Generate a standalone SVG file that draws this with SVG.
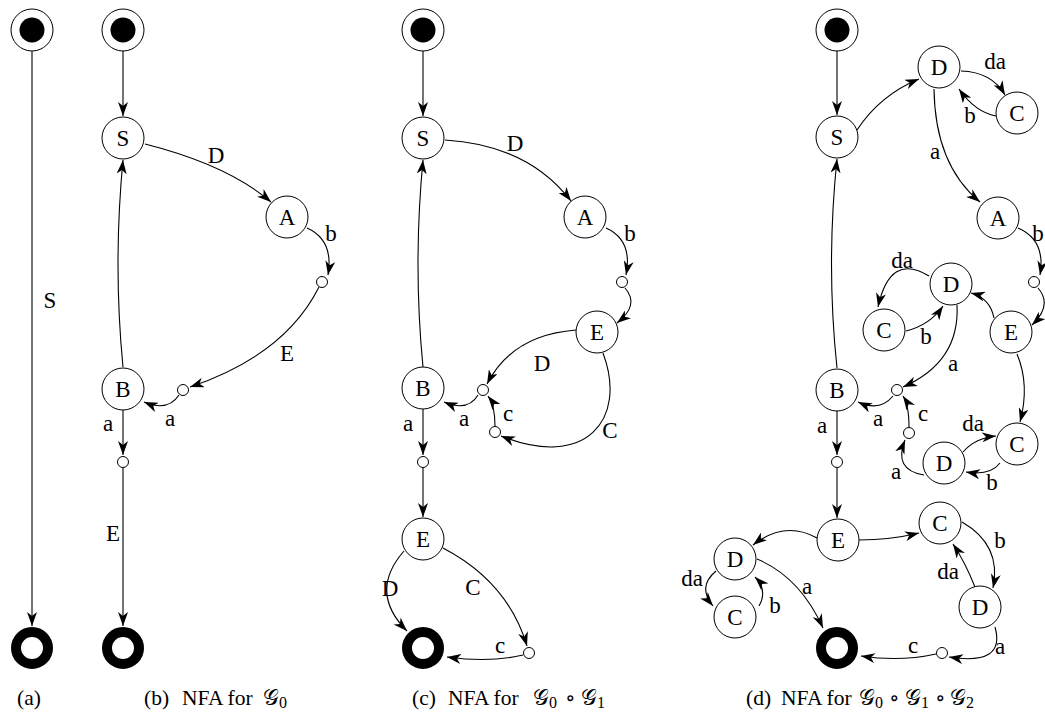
<svg xmlns="http://www.w3.org/2000/svg" width="1045" height="717" viewBox="0 0 1045 717" font-family="Liberation Serif, DejaVu Serif, serif">
<defs>
<marker id="ah" viewBox="0 0 14 10" refX="14" refY="5" markerWidth="14" markerHeight="10" orient="auto" markerUnits="userSpaceOnUse">
<path d="M0,0 L14,5 L0,10 L4,5 z" fill="#000"/>
</marker>
<style>
.n circle{fill:#fff;stroke:#000;stroke-width:1}
.n text,.lbl{font-family:'Liberation Serif','DejaVu Serif',serif;font-size:23px;text-anchor:middle;fill:#000}
.sm circle{fill:#fff;stroke:#000;stroke-width:1}
.st .o{fill:#fff;stroke:#000;stroke-width:1}
.st .i{fill:#000}
.fin circle{fill:none;stroke:#000;stroke-width:10}
.e path{fill:none;stroke:#000;stroke-width:1.1;marker-end:url(#ah)}
.cap{font-family:'Liberation Serif','DejaVu Serif',serif;font-size:21.5px;fill:#000}
.sub{font-size:16px}
</style>
</defs>
<rect width="1045" height="717" fill="#fff"/>

<g id="edges" class="e">
<path d="M32,51 L32,626"/>
<path d="M123,51 L123,116"/>
<path d="M145,144 Q228,165 271,202"/>
<path d="M307,228 Q334,240 328,275"/>
<path d="M319,287 Q285,355 190,387"/>
<path d="M179,395 Q168,412 144,402"/>
<path d="M123,367 Q113,265 123,160"/>
<path d="M123,410 L123,455"/>
<path d="M123,468 L123,626"/>
<path d="M423,51 L423,116"/>
<path d="M445,140 Q528,145 571,201"/>
<path d="M606,228 Q633,240 626,275"/>
<path d="M625,288 Q640,305 617,323"/>
<path d="M576,330 Q512,335 487,384"/>
<path d="M603,353 C628,420 585,470 501,436"/>
<path d="M495,426 Q495,405 488,396"/>
<path d="M478,395 Q468,412 444,402"/>
<path d="M423,367 Q413,265 423,160"/>
<path d="M423,409 L423,455"/>
<path d="M423,468 L423,517"/>
<path d="M404,551 Q368,592 407,631"/>
<path d="M443,548 Q508,582 527,646"/>
<path d="M523,655 Q490,663 447,657"/>
<path d="M837,51 L837,115"/>
<path d="M857,130 Q880,95 919,79"/>
<path d="M961,71 Q992,72 1005,95"/>
<path d="M996,116 Q975,112 959,89"/>
<path d="M934,89 Q935,165 980,202"/>
<path d="M1018,228 Q1046,240 1040,275"/>
<path d="M1038,288 Q1053,305 1032,325"/>
<path d="M994,318 Q990,298 971,293"/>
<path d="M929,276 Q890,252 878,307"/>
<path d="M906,331 Q930,325 943,306"/>
<path d="M957,305 Q960,362 903,387"/>
<path d="M1017,354 Q1030,385 1020,422"/>
<path d="M893,396 Q880,412 858,402"/>
<path d="M909,427 Q909,405 903,396"/>
<path d="M924,475 Q893,470 905,440"/>
<path d="M963,452 Q975,438 996,436"/>
<path d="M1000,463 Q990,476 966,472"/>
<path d="M837,368 Q826,265 837,159"/>
<path d="M837,411 L837,455"/>
<path d="M837,468 L837,518"/>
<path d="M817,538 Q785,520 753,545"/>
<path d="M859,540 Q890,540 919,533"/>
<path d="M716,571 Q697,587 713,606"/>
<path d="M759,606 Q768,590 755,577"/>
<path d="M757,559 Q800,577 823,628"/>
<path d="M962,522 Q1002,545 993,588"/>
<path d="M975,587 Q965,562 953,544"/>
<path d="M995,627 Q1006,666 949,657"/>
<path d="M936,654 Q900,662 861,656"/>
</g>

<g id="edge-labels" class="lbl" font-family="Liberation Serif, DejaVu Serif, serif" font-size="23" text-anchor="middle">
<text x="50" y="308">S</text>
<text x="216" y="163">D</text>
<text x="331" y="241">b</text>
<text x="287" y="361">E</text>
<text x="170" y="426">a</text>
<text x="108" y="431">a</text>
<text x="113" y="541">E</text>
<text x="515" y="151">D</text>
<text x="630" y="241">b</text>
<text x="542" y="371">D</text>
<text x="610" y="438">C</text>
<text x="508" y="421">c</text>
<text x="464" y="426">a</text>
<text x="408" y="431">a</text>
<text x="390" y="596">D</text>
<text x="473" y="595">C</text>
<text x="500" y="653">c</text>
<text x="995" y="69">da</text>
<text x="970" y="123">b</text>
<text x="935" y="159">a</text>
<text x="1038" y="241">b</text>
<text x="902" y="268">da</text>
<text x="926" y="344">b</text>
<text x="953" y="371">a</text>
<text x="878" y="426">a</text>
<text x="923" y="421">c</text>
<text x="822" y="433">a</text>
<text x="973" y="431">da</text>
<text x="896" y="479">a</text>
<text x="992" y="490">b</text>
<text x="692" y="586">da</text>
<text x="775" y="613">b</text>
<text x="807" y="594">a</text>
<text x="1000" y="548">b</text>
<text x="948" y="579">da</text>
<text x="1000" y="654">a</text>
<text x="913" y="653">c</text>
</g>

<g id="a-start" class="st"><circle class="o" cx="32" cy="30" r="21"/><circle class="i" cx="32" cy="30" r="12.5"/></g>
<g id="a-final" class="fin"><circle cx="32" cy="648" r="16"/></g>

<g id="b-start" class="st"><circle class="o" cx="123" cy="30" r="21"/><circle class="i" cx="123" cy="30" r="12.5"/></g>
<g id="b-S" class="n"><circle cx="123" cy="138" r="21"/><text x="123" y="146">S</text></g>
<g id="b-A" class="n"><circle cx="287" cy="217" r="21"/><text x="287" y="225">A</text></g>
<g id="b-s1" class="sm"><circle cx="322" cy="282" r="5.5"/></g>
<g id="b-s2" class="sm"><circle cx="183" cy="390" r="5.5"/></g>
<g id="b-B" class="n"><circle cx="123" cy="389" r="21"/><text x="123" y="397">B</text></g>
<g id="b-s3" class="sm"><circle cx="123" cy="462" r="5.5"/></g>
<g id="b-final" class="fin"><circle cx="123" cy="648" r="16"/></g>

<g id="c-start" class="st"><circle class="o" cx="423" cy="30" r="21"/><circle class="i" cx="423" cy="30" r="12.5"/></g>
<g id="c-S" class="n"><circle cx="423" cy="138" r="21"/><text x="423" y="146">S</text></g>
<g id="c-A" class="n"><circle cx="585" cy="217" r="21"/><text x="585" y="225">A</text></g>
<g id="c-s1" class="sm"><circle cx="622" cy="282" r="5.5"/></g>
<g id="c-E" class="n"><circle cx="597" cy="332" r="21"/><text x="597" y="340">E</text></g>
<g id="c-B" class="n"><circle cx="423" cy="388" r="21"/><text x="423" y="396">B</text></g>
<g id="c-s2" class="sm"><circle cx="483" cy="390" r="5.5"/></g>
<g id="c-s3" class="sm"><circle cx="495" cy="432" r="5.5"/></g>
<g id="c-s4" class="sm"><circle cx="423" cy="462" r="5.5"/></g>
<g id="c-E2" class="n"><circle cx="423" cy="539" r="21"/><text x="423" y="547">E</text></g>
<g id="c-s5" class="sm"><circle cx="529" cy="653" r="5.5"/></g>
<g id="c-final" class="fin"><circle cx="423" cy="648" r="16"/></g>

<g id="d-start" class="st"><circle class="o" cx="837" cy="30" r="21"/><circle class="i" cx="837" cy="30" r="12.5"/></g>
<g id="d-S" class="n"><circle cx="837" cy="137" r="21"/><text x="837" y="145">S</text></g>
<g id="d-D1" class="n"><circle cx="939" cy="67" r="21"/><text x="939" y="75">D</text></g>
<g id="d-C1" class="n"><circle cx="1017" cy="113" r="21"/><text x="1017" y="121">C</text></g>
<g id="d-A" class="n"><circle cx="998" cy="218" r="21"/><text x="998" y="226">A</text></g>
<g id="d-s1" class="sm"><circle cx="1034" cy="282" r="5.5"/></g>
<g id="d-E" class="n"><circle cx="1011" cy="332" r="21"/><text x="1011" y="340">E</text></g>
<g id="d-D2" class="n"><circle cx="951" cy="284" r="21"/><text x="951" y="292">D</text></g>
<g id="d-C2" class="n"><circle cx="884" cy="330" r="21"/><text x="884" y="338">C</text></g>
<g id="d-B" class="n"><circle cx="837" cy="390" r="21"/><text x="837" y="398">B</text></g>
<g id="d-sa" class="sm"><circle cx="897" cy="390" r="5.5"/></g>
<g id="d-sb" class="sm"><circle cx="909" cy="433" r="5.5"/></g>
<g id="d-D3" class="n"><circle cx="944" cy="463" r="21"/><text x="944" y="471">D</text></g>
<g id="d-C3" class="n"><circle cx="1017" cy="444" r="21"/><text x="1017" y="452">C</text></g>
<g id="d-sc" class="sm"><circle cx="837" cy="462" r="5.5"/></g>
<g id="d-E4" class="n"><circle cx="838" cy="540" r="21"/><text x="838" y="548">E</text></g>
<g id="d-C4" class="n"><circle cx="940" cy="523" r="21"/><text x="940" y="531">C</text></g>
<g id="d-D4" class="n"><circle cx="735" cy="559" r="21"/><text x="735" y="567">D</text></g>
<g id="d-C5" class="n"><circle cx="735" cy="617" r="21"/><text x="735" y="625">C</text></g>
<g id="d-D5" class="n"><circle cx="980" cy="607" r="21"/><text x="980" y="615">D</text></g>
<g id="d-sd" class="sm"><circle cx="942" cy="653" r="5.5"/></g>
<g id="d-final" class="fin"><circle cx="837" cy="648" r="16"/></g>

<g id="captions" class="cap" font-family="Liberation Serif, DejaVu Serif, serif" font-size="21.5">
<text x="17" y="705">(a)</text>
<text x="144" y="705">(b)</text>
<text x="182" y="705">NFA for<tspan x="263">𝒢</tspan><tspan class="sub" dy="3">0</tspan></text>
<text x="412" y="705">(c)</text>
<text x="448" y="705">NFA for<tspan x="533">𝒢</tspan><tspan class="sub" dy="3">0</tspan><tspan x="565" dy="-3">∘</tspan><tspan x="581">𝒢</tspan><tspan class="sub" dy="3">1</tspan></text>
<text x="746" y="705">(d)</text>
<text x="781" y="705">NFA for<tspan x="859">𝒢</tspan><tspan class="sub" dy="3">0</tspan><tspan x="889" dy="-3">∘</tspan><tspan x="905">𝒢</tspan><tspan class="sub" dy="3">1</tspan><tspan x="935" dy="-3">∘</tspan><tspan x="950">𝒢</tspan><tspan class="sub" dy="3">2</tspan></text>
</g>
</svg>
